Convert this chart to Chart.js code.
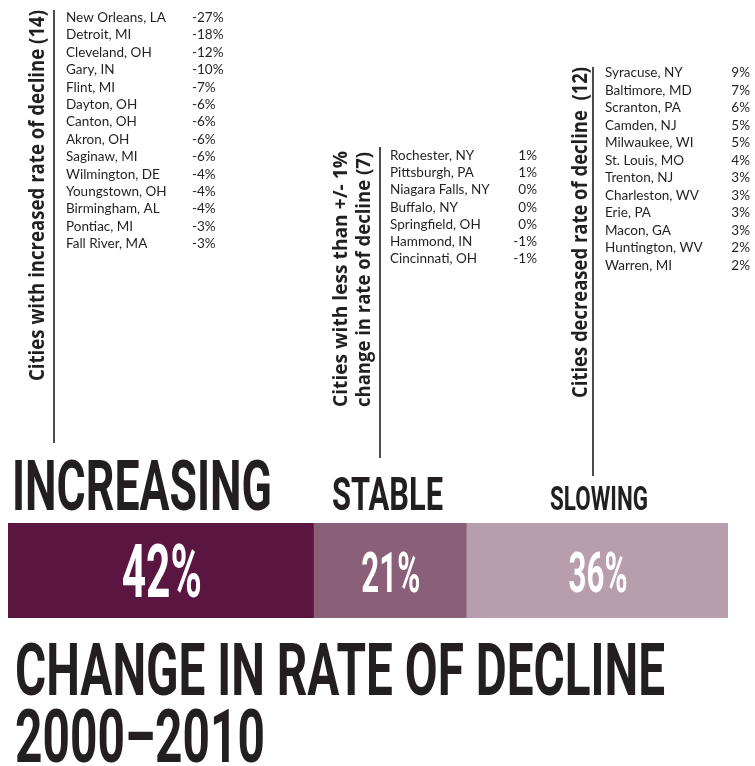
<!DOCTYPE html>
<html>
<head>
<meta charset="utf-8">
<script src="https://cdn.jsdelivr.net/npm/chart.js@4"></script>
<style>
  body { margin: 0; background: #fff; }
  #wrap { width: 755px; height: 766px; }
</style>
</head>
<body>
<div id="wrap"><canvas id="chart-decline" width="755" height="766"></canvas></div>
<script>
const groups = ["INCREASING", "STABLE", "SLOWING"];
const shares = [42, 21, 36];
const groupColors = ["#5b1541", "#8a5f78", "#b89dac"];

const increasingCities = ["New Orleans, LA", "Detroit, MI", "Cleveland, OH", "Gary, IN", "Flint, MI",
  "Dayton, OH", "Canton, OH", "Akron, OH", "Saginaw, MI", "Wilmington, DE", "Youngstown, OH",
  "Birmingham, AL", "Pontiac, MI", "Fall River, MA"];
const increasingChange = [-27, -18, -12, -10, -7, -6, -6, -6, -6, -4, -4, -4, -3, -3];

const stableCities = ["Rochester, NY", "Pittsburgh, PA", "Niagara Falls, NY", "Buffalo, NY",
  "Springfield, OH", "Hammond, IN", "Cincinnati, OH"];
const stableChange = [1, 1, 0, 0, 0, -1, -1];

const slowingCities = ["Syracuse, NY", "Baltimore, MD", "Scranton, PA", "Camden, NJ", "Milwaukee, WI",
  "St. Louis, MO", "Trenton, NJ", "Charleston, WV", "Erie, PA", "Macon, GA", "Huntington, WV", "Warren, MI"];
const slowingChange = [9, 7, 6, 5, 5, 4, 3, 3, 3, 3, 2, 2];

const groupTitles = [
  ["Cities with increased rate of decline (14)"],
  ["Cities with less than +/- 1%", "change in rate of decline (7)"],
  ["Cities decreased rate of decline  (12)"]
];
const chartTitle = ["CHANGE IN RATE OF DECLINE", "2000\u20132010"];

const ink = "#231f20";

// draw text squeezed/stretched to a given width, sized by cap height
function fitText(ctx, text, x, y, capH, width, opts) {
  opts = opts || {};
  const size = capH / (opts.capRatio || 0.711);
  ctx.save();
  ctx.font = (opts.weight || "bold") + " " + size + "px " + (opts.family || "Roboto");
  ctx.fillStyle = opts.color || ink;
  ctx.textBaseline = "alphabetic";
  ctx.textAlign = "left";
  const w = ctx.measureText(text).width;
  ctx.translate(x, y);
  if (opts.rotate) ctx.rotate(opts.rotate);
  ctx.scale(width / w, 1);
  ctx.fillText(text, 0, 0);
  ctx.restore();
}

function drawList(ctx, names, values, nameX, valueX, valueAlign, firstBase, step) {
  ctx.save();
  ctx.font = "13.5px Lato";
  ctx.fillStyle = ink;
  ctx.textBaseline = "alphabetic";
  names.forEach((n, i) => {
    const y = firstBase + i * step;
    ctx.textAlign = "left";
    ctx.fillText(n, nameX, y);
    ctx.textAlign = valueAlign;
    ctx.fillText(values[i] + "%", valueX, y);
  });
  ctx.restore();
}

function vline(ctx, x, y1, y2) {
  ctx.save();
  ctx.strokeStyle = ink;
  ctx.lineWidth = 1.6;
  ctx.beginPath();
  ctx.moveTo(x, y1);
  ctx.lineTo(x, y2);
  ctx.stroke();
  ctx.restore();
}

const infographic = {
  id: "infographic",
  afterDatasetsDraw(chart) {
    const ctx = chart.ctx;
    const up = -Math.PI / 2;

    // percentages inside the bar segments
    const valCap = [53, 40, 40];
    const valBase = [597, 592, 592];
    const valW = [80, 59, 59];
    shares.forEach((s, i) => {
      const el = chart.getDatasetMeta(i).data[0];
      const cx = (el.base + el.x) / 2;
      fitText(ctx, s + "%", cx - valW[i] / 2 + 1, valBase[i], valCap[i], valW[i], { color: "#ffffff" });
    });

    // group headings above the bar
    fitText(ctx, groups[0], 12, 510, 50, 260);
    fitText(ctx, groups[1], 332, 510, 33, 111);
    fitText(ctx, groups[2], 550, 510, 23, 98);

    // big title
    fitText(ctx, chartTitle[0], 15, 695, 52, 650);
    fitText(ctx, chartTitle[1], 15, 762, 53, 250);

    // rotated group titles + leader lines
    const vf = { family: "Open Sans", capRatio: 0.714, rotate: up };
    fitText(ctx, groupTitles[0][0], 44, 381, 15.5, 371, vf);
    vline(ctx, 54, 10, 443);
    fitText(ctx, groupTitles[1][0], 347, 407, 13.5, 256, vf);
    fitText(ctx, groupTitles[1][1], 370, 407, 13.5, 255, vf);
    vline(ctx, 380, 147, 458);
    fitText(ctx, groupTitles[2][0], 587, 398, 15, 331, vf);
    vline(ctx, 593, 67, 476);

    // city lists
    drawList(ctx, increasingCities, increasingChange, 66, 192, "left", 22, 17.4);
    drawList(ctx, stableCities, stableChange, 390, 537, "right", 160, 17.2);
    drawList(ctx, slowingCities, slowingChange, 605, 750, "right", 77, 17.5);
  }
};

const decline = document.getElementById("chart-decline");

new Chart(decline, {
  type: "bar",
  data: {
    labels: [""],
    datasets: groups.map((g, i) => ({
      label: g,
      data: [shares[i]],
      backgroundColor: groupColors[i],
      borderWidth: 0,
      barPercentage: 1,
      categoryPercentage: 1,
    })),
  },
  options: {
    indexAxis: "y",
    responsive: false,
    animation: false,
    layout: {
      padding: { left: 8, right: 27, top: 523, bottom: 148 },
    },
    scales: {
      x: { stacked: true, min: 0, max: 99, display: false },
      y: { stacked: true, display: false },
    },
    plugins: {
      legend: { display: false },
      tooltip: { enabled: false },
      title: { display: false },
    },
  },
  plugins: [infographic],
});
</script>
</body>
</html>
